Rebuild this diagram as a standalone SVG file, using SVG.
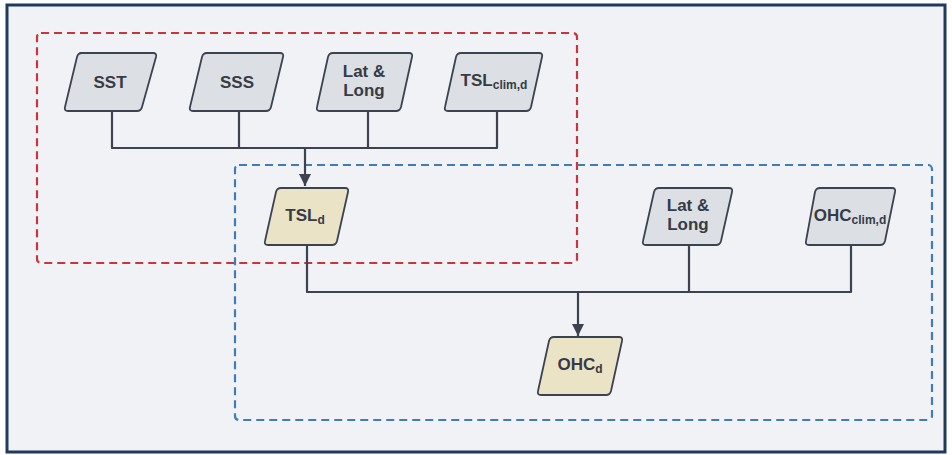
<svg xmlns="http://www.w3.org/2000/svg" width="952" height="455" viewBox="0 0 952 455">
<defs>
<style>
.bg{fill:#f0f2f5;stroke:#203a5c;stroke-width:3}
.in{fill:#dcdfe4;stroke:#3c4350;stroke-width:1.8;stroke-linejoin:round}
.out{fill:#ebe3c6;stroke:#3c4350;stroke-width:1.8;stroke-linejoin:round}
.t{font-family:"Liberation Sans",Arial,sans-serif;font-weight:bold;font-size:17px;fill:#363b44;text-anchor:middle}
.s{font-size:12px}
.c{fill:none;stroke:#3c4350;stroke-width:2.2;stroke-linejoin:round}
.red{fill:none;stroke:#c8363c;stroke-width:2.2;stroke-dasharray:8 5}
.blue{fill:none;stroke:#3f7db7;stroke-width:2.2;stroke-dasharray:8 5}
</style>
<marker id="arr" viewBox="0 0 12 12" refX="12" refY="6" markerWidth="12" markerHeight="12" markerUnits="userSpaceOnUse" orient="auto">
<path d="M0,0 L12,6 L0,12 z" fill="#3c4350"/>
</marker>
</defs>
<rect class="bg" x="7" y="5" width="938" height="447"/>
<rect class="red" x="37" y="33" width="540" height="230" rx="4"/>
<rect class="blue" x="235" y="165" width="697" height="255" rx="4"/>
<g id="connectors">
<path class="c" d="M112,111 V148 H497 V111"/>
<path class="c" d="M239,111 V148"/>
<path class="c" d="M368,111 V148"/>
<path class="c" d="M305,148 V186" marker-end="url(#arr)"/>
<path class="c" d="M307,245 V292 H851 V245"/>
<path class="c" d="M689,245 V292"/>
<path class="c" d="M578,292 V336" marker-end="url(#arr)"/>
</g>
<g id="sst">
<path class="in" d="M80,53 H153 Q157,53 156,57 L142,107 Q141,111 137,111 H68 Q64,111 65,107 L77,57 Q78,53 82,53 Z"/>
<text class="t" x="110" y="88">SST</text>
</g>
<g id="sss">
<path class="in" d="M206,53 H280 Q284,53 283,57 L271,107 Q270,111 266,111 H193 Q189,111 190,107 L202,57 Q203,53 207,53 Z"/>
<text class="t" x="237" y="88">SSS</text>
</g>
<g id="latlong1">
<path class="in" d="M332,53 H409 Q413,53 412,57 L401,107 Q400,111 396,111 H320 Q316,111 317,107 L328,57 Q329,53 333,53 Z"/>
<text class="t" x="364" y="77">Lat &amp;</text>
<text class="t" x="364" y="96">Long</text>
</g>
<g id="tslclim">
<path class="in" d="M461,53 H539 Q543,53 542,57 L531,107 Q530,111 526,111 H448 Q444,111 445,107 L456,57 Q457,53 461,53 Z"/>
<text class="t" x="494" y="86">TSL<tspan class="s" dy="3">clim,d</tspan></text>
</g>
<g id="tsld">
<path class="out" d="M281,188 H345 Q349,188 348,192 L337,241 Q336,245 332,245 H268 Q264,245 265,241 L276,192 Q277,188 281,188 Z"/>
<text class="t" x="305" y="221">TSL<tspan class="s" dy="3">d</tspan></text>
</g>
<g id="latlong2">
<path class="in" d="M659,188 H729 Q733,188 732,192 L721,241 Q720,245 716,245 H646 Q642,245 643,241 L654,192 Q655,188 659,188 Z"/>
<text class="t" x="688" y="211">Lat &amp;</text>
<text class="t" x="688" y="230">Long</text>
</g>
<g id="ohcclim">
<path class="in" d="M819,188 H892 Q896,188 895,192 L885,241 Q884,245 880,245 H809 Q805,245 806,241 L815,192 Q816,188 820,188 Z"/>
<text class="t" x="850" y="221">OHC<tspan class="s" dy="3">clim,d</tspan></text>
</g>
<g id="ohcd">
<path class="out" d="M554,337 H619 Q623,337 622,341 L611,391 Q610,395 606,395 H541 Q537,395 538,391 L549,341 Q550,337 554,337 Z"/>
<text class="t" x="580" y="370">OHC<tspan class="s" dy="3">d</tspan></text>
</g>
</svg>
